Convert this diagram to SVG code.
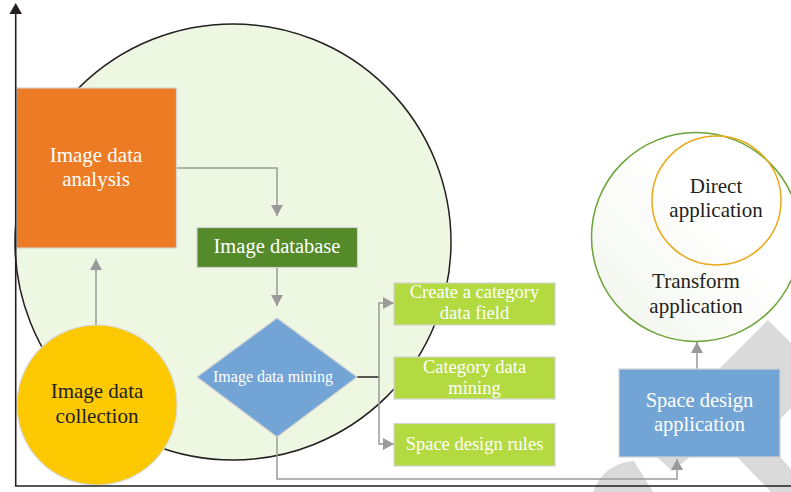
<svg xmlns="http://www.w3.org/2000/svg" width="791" height="492" viewBox="0 0 791 492">
<defs>
<style>
.lbl{font-family:"Liberation Serif","Times New Roman",serif;text-anchor:middle}
.w{fill:#ffffff}
.k{fill:#231f20}
.conn{fill:none;stroke:#9a9a9a;stroke-width:1.5}
.node{stroke:#d2d2d2;stroke-width:1.2}
.axis{fill:none;stroke:#231f20;stroke-width:1.6}
.wm{fill:#dadada}
</style>
<marker id="arr" viewBox="0 0 11 12" refX="11" refY="6" markerWidth="11" markerHeight="12" markerUnits="userSpaceOnUse" orient="auto">
<path d="M0,0 L11,6 L0,12 Z" fill="#9a9a9a"/>
</marker>
<linearGradient id="gc" x1="1" y1="0" x2="0" y2="1">
<stop offset="0.4" stop-color="#ffffff"/>
<stop offset="1" stop-color="#f1f5ec"/>
</linearGradient>
</defs>
<rect width="791" height="492" fill="#ffffff"/>
<g id="watermark">
<polygon class="wm" points="768,320 791,343 791,408 760,440 640,448"/>
<path class="wm" d="M593,492 Q604,463 634,461 L653,492 Z"/>
<polygon class="wm" points="657,457 690,457 672,471"/>
<polygon class="wm" points="737,457 780,457 791,469 791,492 771,492"/>
</g>
<g id="scope">
<circle cx="233" cy="242" r="218" fill="#eef7e2" stroke="#231f20" stroke-width="1.5"/>
</g>
<g id="application-circles">
<circle cx="696" cy="237" r="104.5" fill="url(#gc)" stroke="#6aa436" stroke-width="1.5"/>
<circle cx="716.5" cy="200.5" r="64.5" fill="none" stroke="#e8a91a" stroke-width="1.5"/>
<text class="lbl k" x="716" y="193" font-size="21">Direct</text>
<text class="lbl k" x="716" y="217" font-size="21">application</text>
<text class="lbl k" x="696" y="288" font-size="21">Transform</text>
<text class="lbl k" x="696" y="313" font-size="21">application</text>
</g>
<g id="connectors">
<path class="conn" d="M176,168 H277 V216" marker-end="url(#arr)"/>
<path class="conn" d="M277,268 V306" marker-end="url(#arr)"/>
<path class="conn" d="M96,325 V259" marker-end="url(#arr)"/>
<path d="M357,377 H379" fill="none" stroke="#231f20" stroke-width="1.5"/>
<path class="conn" d="M379,377 V303 H394" marker-end="url(#arr)"/>
<path class="conn" d="M379,377 V444 H394" marker-end="url(#arr)"/>
<path class="conn" d="M277,437 V479 H677 V459" marker-end="url(#arr)"/>
<path class="conn" d="M697,369 V342" marker-end="url(#arr)"/>
</g>
<g id="image-data-analysis">
<rect class="node" x="16.5" y="88" width="160" height="160" fill="#ec7b24" stroke="#e3c7b3"/>
<text class="lbl w" x="96" y="162" font-size="21">Image data</text>
<text class="lbl w" x="96" y="186" font-size="21">analysis</text>
</g>
<g id="image-database">
<rect class="node" x="197" y="227.5" width="160.5" height="40" fill="#548a29"/>
<text class="lbl w" x="277" y="252.5" font-size="20.5">Image database</text>
</g>
<g id="image-data-mining">
<polygon class="node" points="277,318 357,377 277,437 197,377" fill="#72a5d6"/>
<text class="lbl w" x="273" y="382" font-size="16">Image data mining</text>
</g>
<g id="create-category-data-field">
<rect class="node" x="394" y="283" width="161" height="42" fill="#b3da41"/>
<text class="lbl w" x="474.5" y="298" font-size="18.5">Create a category</text>
<text class="lbl w" x="474.5" y="319" font-size="18.5">data field</text>
</g>
<g id="category-data-mining">
<rect class="node" x="394" y="357" width="161" height="42" fill="#b3da41"/>
<text class="lbl w" x="474.5" y="373" font-size="18.5">Category data</text>
<text class="lbl w" x="474.5" y="394" font-size="18.5">mining</text>
</g>
<g id="space-design-rules">
<rect class="node" x="394" y="423.5" width="161" height="42.5" fill="#b3da41"/>
<text class="lbl w" x="474.5" y="450" font-size="18.5">Space design rules</text>
</g>
<g id="space-design-application">
<rect class="node" x="619" y="369" width="161" height="88" fill="#72a5d6"/>
<text class="lbl w" x="699.5" y="407" font-size="20.5">Space design</text>
<text class="lbl w" x="699.5" y="431" font-size="20.5">application</text>
</g>
<g id="image-data-collection">
<circle cx="97" cy="405" r="80" fill="#fcc900" stroke="#d8d8d8" stroke-width="1.2"/>
<text class="lbl k" x="97" y="398" font-size="21">Image data</text>
<text class="lbl k" x="97" y="423" font-size="21">collection</text>
</g>
<g id="axes">
<path class="axis" d="M15.7,13 V486 H791"/>
<polygon points="15.7,3 22,14 9.4,14" fill="#231f20"/>
</g>
</svg>
